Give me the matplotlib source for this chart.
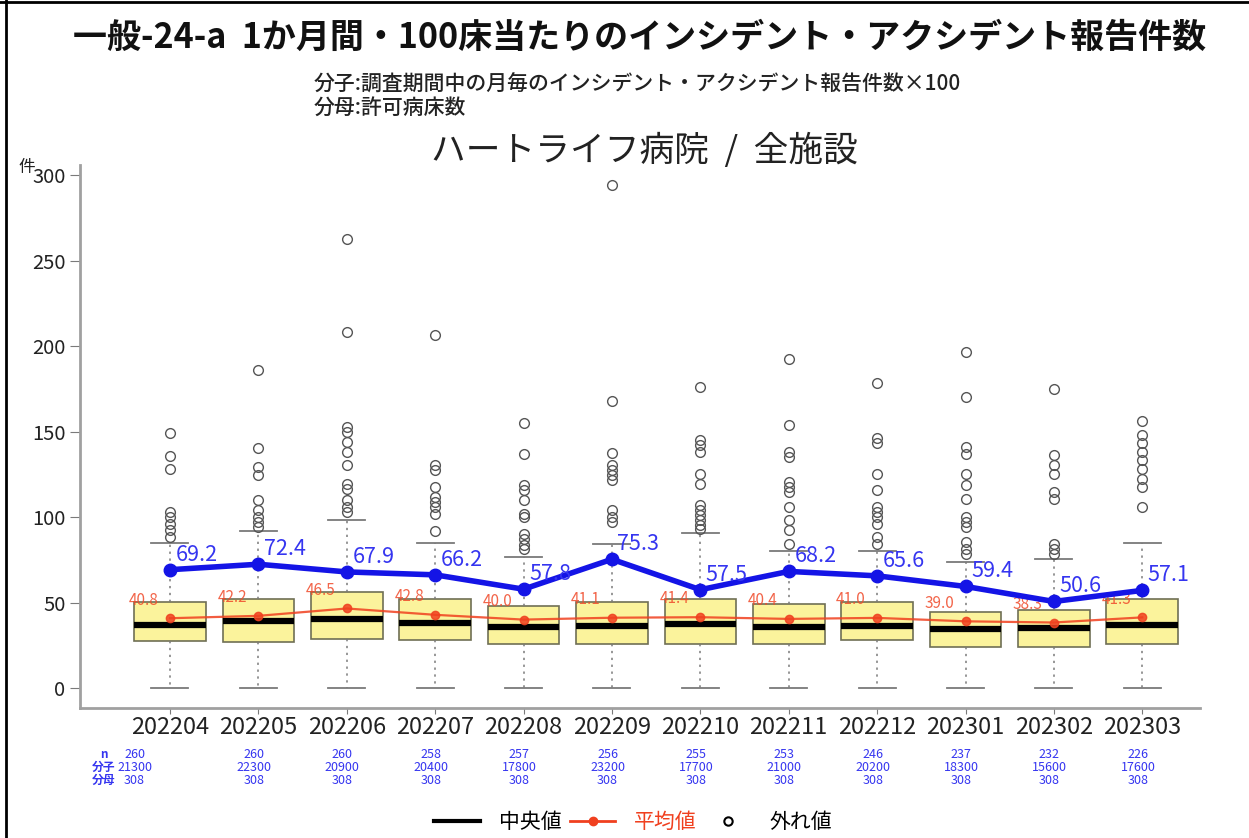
import numpy as np
import matplotlib.pyplot as plt
from matplotlib.lines import Line2D
from matplotlib.transforms import blended_transform_factory

plt.rcParams['font.family'] = ['Noto Sans CJK JP', 'DejaVu Sans']

# ---- data ----
months = ['202204', '202205', '202206', '202207', '202208', '202209',
          '202210', '202211', '202212', '202301', '202302', '202303']
n_facilities = [260, 260, 260, 258, 257, 256, 255, 253, 246, 237, 232, 226]
numerators = [21300, 22300, 20900, 20400, 17800, 23200,
              17700, 21000, 20200, 18300, 15600, 17600]
denominators = [308, 308, 308, 308, 308, 308, 308, 308, 308, 308, 308, 308]

# this hospital
hospital = [69.2, 72.4, 67.9, 66.2, 57.8, 75.3, 57.5, 68.2, 65.6, 59.4, 50.6, 57.1]
# mean of all facilities
all_mean = [40.8, 42.2, 46.5, 42.8, 40.0, 41.1, 41.4, 40.4, 41.0, 39.0, 38.3, 41.3]

# box statistics of all facilities
q1 = [27.6, 26.6, 28.6, 28.0, 25.6, 25.6, 25.6, 25.6, 28.0, 24.1, 24.1, 25.6]
medians = [36.8, 39.3, 40.3, 38.0, 35.4, 36.4, 37.4, 35.4, 36.4, 34.4, 34.8, 36.8]
q3 = [50.5, 52.1, 56.4, 52.1, 47.7, 50.5, 52.1, 49.1, 50.1, 44.2, 45.8, 52.1]
whisker_hi = [84.7, 91.6, 98.1, 84.7, 76.5, 84.4, 90.8, 80.4, 80.4, 73.6, 75.5, 84.7]
whisker_lo = [0, 0, 0, 0, 0, 0, 0, 0, 0, 0, 0, 0]
outliers = [
    [149.3, 135.6, 128.4, 102.9, 100.0, 96.1, 92.2, 88.3],
    [186.0, 140.2, 129.4, 124.5, 109.8, 103.9, 100.0, 97.1, 94.1],
    [262.5, 208.6, 152.9, 150.0, 144.0, 138.2, 130.4, 119.6, 116.7, 109.8, 105.9, 102.9],
    [206.3, 130.4, 127.4, 117.6, 111.8, 108.8, 105.9, 102.0, 91.6],
    [155.2, 137.2, 118.6, 115.7, 109.8, 102.0, 100.0, 90.3, 87.3, 83.4, 81.4],
    [294.2, 168.1, 137.6, 130.4, 127.4, 124.5, 121.6, 103.9, 100.0, 97.1],
    [176.3, 145.0, 142.1, 138.2, 125.5, 119.6, 106.9, 103.9, 101.0, 98.1, 95.1, 93.2],
    [192.4, 153.8, 138.2, 135.2, 120.6, 117.6, 114.7, 105.9, 98.1, 92.2, 84.4],
    [178.3, 146.0, 143.1, 125.5, 115.7, 105.9, 102.9, 100.0, 96.1, 88.3, 84.4],
    [196.9, 170.5, 141.1, 137.2, 125.5, 118.6, 110.8, 100.0, 97.1, 94.1, 85.3, 81.4, 78.5],
    [174.8, 136.2, 130.4, 125.5, 114.7, 110.8, 84.4, 81.4, 78.5],
    [156.4, 148.0, 143.1, 138.2, 133.3, 128.4, 122.5, 117.6, 105.9],
]

# ---- figure ----
fig = plt.figure(figsize=(12.49, 8.38), dpi=100)
ax = fig.add_axes([0.064, 0.155, 0.897, 0.648])

pos = np.arange(len(months))
stats = []
for i in range(len(months)):
    stats.append({'med': medians[i], 'q1': q1[i], 'q3': q3[i],
                  'whislo': whisker_lo[i], 'whishi': whisker_hi[i],
                  'fliers': outliers[i]})

grey = '#7a7a7a'
ax.bxp(stats, positions=pos, widths=0.81, capwidths=0.42, patch_artist=True,
       boxprops=dict(facecolor='#FBF39C', edgecolor='#6f6f55', linewidth=1.2),
       medianprops=dict(color='black', linewidth=4.5),
       whiskerprops=dict(color=grey, linestyle=(0, (1.5, 3)), linewidth=1.1),
       capprops=dict(color=grey, linewidth=1.3),
       flierprops=dict(marker='o', markerfacecolor='none', markeredgecolor='#555555',
                       markersize=7, markeredgewidth=1.0))

# mean of all facilities
red = '#F0401F'
ax.plot(pos, all_mean, color=red, lw=1.6, marker='o', ms=6, alpha=0.85, zorder=4)
for x, v in zip(pos, all_mean):
    ax.annotate(f'{v:.1f}', (x, v), xytext=(-8, 7), textcoords='offset points',
                ha='right', va='bottom', color='#F04A2A', fontsize=11, alpha=0.85)

# this hospital
blue = '#1414E6'
ax.plot(pos, hospital, color=blue, lw=4, marker='o', ms=9, zorder=5)
for x, v in zip(pos, hospital):
    ax.annotate(f'{v:.1f}', (x, v), xytext=(4, 3), textcoords='offset points',
                ha='left', va='bottom', color='#3535F0', fontsize=15.5, zorder=6)

ax.set_xlim(-1.018, 11.656)
ax.set_ylim(-11.8, 306)
ax.set_yticks([0, 50, 100, 150, 200, 250, 300])
ax.set_xticks(pos)
ax.set_xticklabels(months, fontsize=17, color='#222222')
ax.tick_params(axis='y', labelsize=14.5, length=7, color=grey, labelcolor='#222222')
ax.tick_params(axis='x', length=4, color=grey, pad=2)
for side in ['top', 'right']:
    ax.spines[side].set_visible(False)
for side in ['left', 'bottom']:
    ax.spines[side].set_color('#a0a0a0')
    ax.spines[side].set_linewidth(2)

# n / numerator / denominator table under the axis
trans = blended_transform_factory(ax.transData, fig.transFigure)
row_y = [0.100, 0.0845, 0.069]
for x in pos:
    # first column sits to the left, next to the row labels
    tx = x - 0.40 if x == 0 else x - 0.05
    for y, val in zip(row_y, [n_facilities[x], numerators[x], denominators[x]]):
        ax.text(tx, y, str(val), transform=trans, ha='center', va='center',
                fontsize=9, color='#3535F0')
for y, lab in zip(row_y, ['n', '分子', '分母']):
    fig.text(0.083, y, lab, ha='center', va='center', fontsize=8.5,
             fontweight='bold', color='#3535F0')

# titles
fig.text(0.512, 0.955, '一般-24-a  1か月間・100床当たりのインシデント・アクシデント報告件数',
         ha='center', va='center', fontsize=24.5, fontweight='bold', color='#111111')
fig.text(0.251, 0.899, '分子:調査期間中の月毎のインシデント・アクシデント報告件数×100',
         ha='left', va='center', fontsize=15, fontweight='medium', color='#222222')
fig.text(0.251, 0.871, '分母:許可病床数', ha='left', va='center', fontsize=15,
         fontweight='medium', color='#222222')
fig.text(0.516, 0.819, 'ハートライフ病院  /  全施設', ha='center', va='center',
         fontsize=25, color='#222222')
fig.text(0.0144, 0.8, '件', ha='left', va='center', fontsize=12, color='#222222')

# legend
handles = [Line2D([], [], color='black', lw=3),
           Line2D([], [], color=red, lw=2, marker='o', ms=6),
           Line2D([], [], color='none', marker='o', markerfacecolor='none',
                  markeredgecolor='black', ms=6, mew=1.5)]
leg = fig.legend(handles, ['中央値', '平均値', '外れ値'], loc='center',
                 bbox_to_anchor=(0.507, 0.019), ncol=3, frameon=False, fontsize=15,
                 handlelength=2.2, columnspacing=0.4, handletextpad=0.9)
leg.get_texts()[1].set_color(red)

# outer frame lines
fig.add_artist(Line2D([0.005, 0.005], [0, 1], transform=fig.transFigure, color='black', lw=2))
fig.add_artist(Line2D([0, 1], [0.998, 0.998], transform=fig.transFigure, color='black', lw=2))

fig.savefig('out.png', dpi=100)
